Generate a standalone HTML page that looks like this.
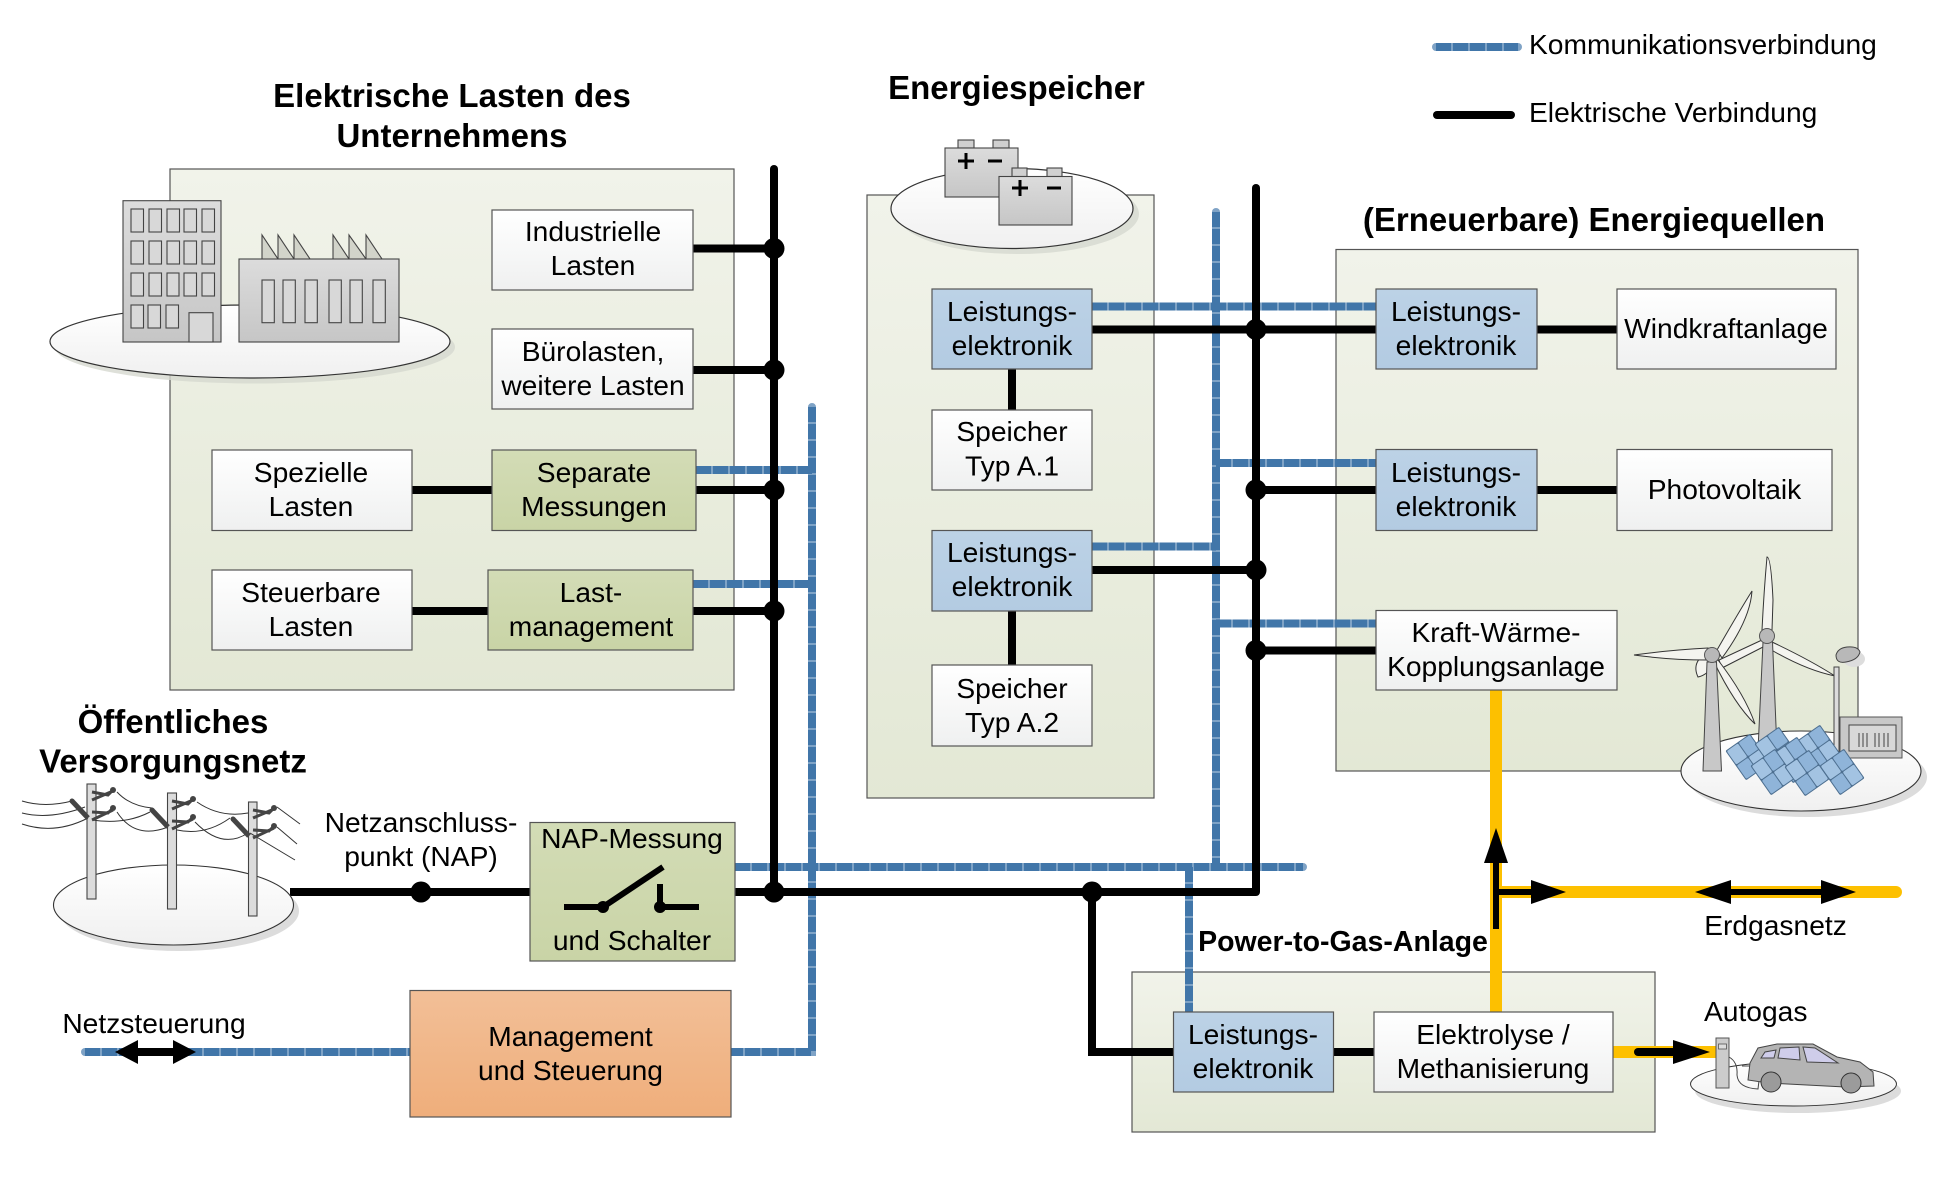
<!DOCTYPE html>
<html><head><meta charset="utf-8"><style>
html,body{margin:0;padding:0;background:#fff}
svg{display:block}
text{font-family:"Liberation Sans",sans-serif;font-size:28.2px;fill:#000;text-anchor:middle}
.b{font-weight:bold;font-size:33px}
.l{text-anchor:start}
.k{stroke:#000;stroke-width:8;fill:none}
.t{stroke:#000;stroke-width:6;fill:none}
.y{stroke:#fdc000;stroke-width:12;fill:none;stroke-linecap:round}
.bx{stroke:#555;stroke-width:1.2}
.o{stroke:#444;stroke-width:1.1}
.w{fill:#dcdcdc;stroke:#444;stroke-width:1.1}
</style></head><body>
<svg width="1948" height="1183" viewBox="0 0 1948 1183" xmlns="http://www.w3.org/2000/svg">
<defs>
<linearGradient id="pn" x1="0" y1="0" x2="0" y2="1"><stop offset="0" stop-color="#f1f3ea"/><stop offset="1" stop-color="#e3e8d5"/></linearGradient>
<linearGradient id="wh" x1="0" y1="0" x2="0" y2="1"><stop offset="0" stop-color="#fff"/><stop offset="1" stop-color="#eff0f0"/></linearGradient>
<linearGradient id="bl" x1="0" y1="0" x2="0" y2="1"><stop offset="0" stop-color="#bcd2e6"/><stop offset="1" stop-color="#b3cbe2"/></linearGradient>
<linearGradient id="gr" x1="0" y1="0" x2="0" y2="1"><stop offset="0" stop-color="#d3dcb6"/><stop offset="1" stop-color="#c9d4a6"/></linearGradient>
<linearGradient id="or" x1="0" y1="0" x2="0" y2="1"><stop offset="0" stop-color="#f2bf97"/><stop offset="1" stop-color="#efae7b"/></linearGradient>
<linearGradient id="gy" x1="0" y1="0" x2="0" y2="1"><stop offset="0" stop-color="#dcdcdc"/><stop offset="1" stop-color="#c6c6c6"/></linearGradient>
<linearGradient id="el" x1="0" y1="0" x2="0" y2="1"><stop offset="0" stop-color="#fff"/><stop offset="1" stop-color="#f0f0f0"/></linearGradient>
<g id="pv">
<g transform="rotate(-35)">
<rect x="-15" y="-18" width="30" height="36" rx="1.5" fill="#4d6f90"/>
<rect x="-14" y="-17" width="13.5" height="16.5" rx="1.5" fill="#a3c3e2"/><rect x="0.5" y="-17" width="13.5" height="16.5" rx="1.5" fill="#8fb4d9"/>
<rect x="-14" y="0.5" width="13.5" height="16.5" rx="1.5" fill="#8fb4d9"/><rect x="0.5" y="0.5" width="13.5" height="16.5" rx="1.5" fill="#a3c3e2"/>
</g></g>
<g id="arm" fill="none" stroke="#444">
<path stroke-width="5" d="M72 801L88 818"/>
<path stroke-width="3" d="M92 792L108 795L113 790M92 800L113 791M92 812L108 813L113 808M92 820L113 810"/>
<circle cx="72" cy="801" r="2.5" fill="#444" stroke="none"/><circle cx="113" cy="790" r="3" fill="#444" stroke="none"/><circle cx="113" cy="808" r="3" fill="#444" stroke="none"/>
</g>
<g id="cm" fill="none">
<path d="M812 407V1052H731"/>
<path d="M696 470H812"/>
<path d="M693 584H812"/>
<path d="M85 1052H410"/>
<path d="M735 867H1303"/>
<path d="M1216 212V867"/>
<path d="M1189 867V1012"/>
<path d="M1092 306.5H1376"/>
<path d="M1092 546.5H1216"/>
<path d="M1216 463H1376"/>
<path d="M1216 623.5H1376"/>
<path d="M1436 47H1518"/>
</g>
</defs>

<!-- panels -->
<rect x="170" y="169" width="564" height="521" fill="url(#pn)" class="bx"/>
<rect x="867" y="195" width="287" height="603" fill="url(#pn)" class="bx"/>
<rect x="1336" y="249.5" width="522" height="521.5" fill="url(#pn)" class="bx"/>
<rect x="1132" y="972" width="523" height="160" fill="url(#pn)" class="bx"/>

<!-- titles -->
<text class="b" x="452" y="107">Elektrische Lasten des</text>
<text class="b" x="452" y="147">Unternehmens</text>
<text class="b" x="1016.5" y="99">Energiespeicher</text>
<text class="b" x="1594" y="231">(Erneuerbare) Energiequellen</text>
<text class="b" x="173" y="733">Öffentliches</text>
<text class="b" x="173" y="772.5">Versorgungsnetz</text>
<text x="1343" y="951" style="font-weight:bold;font-size:28.5px">Power-to-Gas-Anlage</text>

<!-- legend -->
<line class="k" x1="1437" y1="115" x2="1511" y2="115" stroke-linecap="round"/>
<text class="l" x="1529" y="54">Kommunikationsverbindung</text>
<text class="l" x="1529" y="122">Elektrische Verbindung</text>

<!-- factory island -->
<ellipse cx="255" cy="347" rx="200" ry="36.5" fill="#d6d8d0" opacity=".8"/>
<ellipse cx="250" cy="341.5" rx="200" ry="36.5" fill="url(#el)" stroke="#333" stroke-width="1.2"/>
<rect x="123" y="200.7" width="98" height="141.3" fill="url(#gy)" class="o"/>
<g fill="#d8d8d8" class="o">
<rect x="131" y="209" width="12.5" height="23"/><rect x="149" y="209" width="12.5" height="23"/><rect x="167" y="209" width="12.5" height="23"/><rect x="184" y="209" width="12.5" height="23"/><rect x="202" y="209" width="12.5" height="23"/>
<rect x="131" y="241" width="12.5" height="23"/><rect x="149" y="241" width="12.5" height="23"/><rect x="167" y="241" width="12.5" height="23"/><rect x="184" y="241" width="12.5" height="23"/><rect x="202" y="241" width="12.5" height="23"/>
<rect x="131" y="273" width="12.5" height="23"/><rect x="149" y="273" width="12.5" height="23"/><rect x="167" y="273" width="12" height="23"/><rect x="184" y="273" width="12.5" height="23"/><rect x="202" y="273" width="12.5" height="23"/>
<rect x="131" y="305" width="12.5" height="23"/><rect x="148" y="305" width="12.5" height="23"/><rect x="166" y="305" width="12.5" height="23"/>
<rect x="189" y="312.7" width="24" height="29.3"/>
</g>
<g fill="#d2d4ca" class="o">
<path d="M262 259V235L278 259Z"/><path d="M278 259V235L294 259Z"/><path d="M294 259V235L310 259Z"/>
<path d="M333 259V235L349 259Z"/><path d="M349 259V235L366 259Z"/><path d="M366 259V235L382 259Z"/>
</g>
<rect x="239" y="259" width="160" height="83" fill="url(#gy)" class="o"/>
<g fill="#d8d8d8" class="o">
<rect x="262" y="280" width="12.3" height="42.7"/><rect x="283" y="280" width="12.3" height="42.7"/><rect x="305" y="280" width="12.3" height="42.7"/><rect x="329" y="280" width="12.3" height="42.7"/><rect x="350" y="280" width="12.3" height="42.7"/><rect x="373" y="280" width="12.3" height="42.7"/>
</g>

<!-- battery island -->
<ellipse cx="1018" cy="214" rx="121" ry="40" fill="#d6d8d0" opacity=".8"/>
<ellipse cx="1012" cy="208.5" rx="121" ry="40" fill="url(#el)" stroke="#333" stroke-width="1.2"/>
<g class="o" fill="#d0d0d0">
<rect x="958" y="140" width="16" height="8"/><rect x="993" y="140" width="16" height="8"/>
<rect x="945" y="148" width="73" height="49" fill="url(#gy)"/>
<rect x="1012" y="168" width="15" height="8.5"/><rect x="1047" y="168" width="15" height="8.5"/>
<rect x="999" y="176.5" width="73" height="48.5" fill="url(#gy)"/>
</g>
<g stroke="#000" stroke-width="3"><path d="M958 161H974M966 153V169M988 161H1002M1012 188H1028M1020 180V196M1047 188H1061"/></g>

<!-- comm lines -->
<use href="#cm" stroke="#7fa3c6" stroke-width="8" stroke-linecap="round"/>
<use href="#cm" stroke="#4176a9" stroke-width="8" stroke-dasharray="15 2"/>

<!-- yellow -->
<path class="y" d="M1496 690V1012" style="stroke-linecap:butt"/>
<path class="y" d="M1496 892H1896"/>
<path class="y" d="M1612 1052H1716" style="stroke-linecap:butt"/>

<!-- black lines -->
<line class="k" x1="774" y1="169" x2="774" y2="892" stroke-linecap="round"/>
<line class="k" x1="1256" y1="188" x2="1256" y2="892" stroke-linecap="round"/>
<path class="k" d="M290 892H1256"/>
<path class="k" d="M1092 892V1052H1173"/>
<line class="k" x1="1333" y1="1052" x2="1374" y2="1052"/>
<line class="k" x1="693" y1="248.5" x2="774" y2="248.5"/>
<line class="k" x1="693" y1="370" x2="774" y2="370"/>
<line class="k" x1="412" y1="490" x2="492" y2="490"/>
<line class="k" x1="696" y1="490" x2="774" y2="490"/>
<line class="k" x1="412" y1="611" x2="488" y2="611"/>
<line class="k" x1="693" y1="611" x2="774" y2="611"/>
<line class="k" x1="1012" y1="369" x2="1012" y2="410"/>
<line class="k" x1="1012" y1="611" x2="1012" y2="665"/>
<line class="k" x1="1092" y1="329.5" x2="1376" y2="329.5"/>
<line class="k" x1="1537" y1="329.5" x2="1617" y2="329.5"/>
<line class="k" x1="1256" y1="490" x2="1376" y2="490"/>
<line class="k" x1="1537" y1="490" x2="1617" y2="490"/>
<line class="k" x1="1092" y1="570" x2="1256" y2="570"/>
<line class="k" x1="1256" y1="650.5" x2="1376" y2="650.5"/>

<!-- dots -->
<g fill="#000">
<circle cx="774" cy="248.5" r="10.5"/><circle cx="774" cy="370" r="10.5"/><circle cx="774" cy="490" r="10.5"/><circle cx="774" cy="611" r="10.5"/><circle cx="774" cy="892" r="10.5"/>
<circle cx="421" cy="892" r="10.5"/><circle cx="1092" cy="892" r="10.5"/>
<circle cx="1256" cy="329.5" r="10.5"/><circle cx="1256" cy="490" r="10.5"/><circle cx="1256" cy="570" r="10.5"/><circle cx="1256" cy="650.5" r="10.5"/>
</g>

<!-- boxes left -->
<rect x="492" y="210" width="201" height="80" fill="url(#wh)" class="bx"/>
<text x="593" y="241">Industrielle</text><text x="593" y="275">Lasten</text>
<rect x="492" y="329" width="201" height="80" fill="url(#wh)" class="bx"/>
<text x="593" y="361">Bürolasten,</text><text x="593" y="395">weitere Lasten</text>
<rect x="212" y="450" width="200" height="80.5" fill="url(#wh)" class="bx"/>
<text x="311" y="482">Spezielle</text><text x="311" y="516">Lasten</text>
<rect x="492" y="450" width="204" height="80.5" fill="url(#gr)" class="bx"/>
<text x="594" y="482">Separate</text><text x="594" y="516">Messungen</text>
<rect x="212" y="570" width="200" height="80" fill="url(#wh)" class="bx"/>
<text x="311" y="602">Steuerbare</text><text x="311" y="636">Lasten</text>
<rect x="488" y="570" width="205" height="80" fill="url(#gr)" class="bx"/>
<text x="591" y="602">Last-</text><text x="591" y="636">management</text>

<!-- boxes storage -->
<rect x="932" y="289" width="160" height="80" fill="url(#bl)" class="bx"/>
<text x="1012" y="321">Leistungs-</text><text x="1012" y="355">elektronik</text>
<rect x="932" y="410" width="160" height="80" fill="url(#wh)" class="bx"/>
<text x="1012" y="441">Speicher</text><text x="1012" y="475.5">Typ A.1</text>
<rect x="932" y="530.5" width="160" height="80.5" fill="url(#bl)" class="bx"/>
<text x="1012" y="562">Leistungs-</text><text x="1012" y="596">elektronik</text>
<rect x="932" y="665" width="160" height="81" fill="url(#wh)" class="bx"/>
<text x="1012" y="698">Speicher</text><text x="1012" y="732">Typ A.2</text>

<!-- boxes sources -->
<rect x="1376" y="289" width="161" height="80" fill="url(#bl)" class="bx"/>
<text x="1456" y="321">Leistungs-</text><text x="1456" y="355">elektronik</text>
<rect x="1617" y="289" width="219" height="80" fill="url(#wh)" class="bx"/>
<text x="1726" y="338">Windkraftanlage</text>
<rect x="1376" y="449.5" width="161" height="81" fill="url(#bl)" class="bx"/>
<text x="1456" y="482">Leistungs-</text><text x="1456" y="516">elektronik</text>
<rect x="1617" y="449.5" width="215" height="81" fill="url(#wh)" class="bx"/>
<text x="1724.5" y="499">Photovoltaik</text>
<rect x="1376" y="610.5" width="241" height="79.5" fill="url(#wh)" class="bx"/>
<text x="1496" y="642">Kraft-Wärme-</text><text x="1496" y="676">Kopplungsanlage</text>

<!-- grid island -->
<ellipse cx="179" cy="911" rx="120" ry="40" fill="#dcdcdc"/>
<ellipse cx="173.5" cy="905" rx="120" ry="40" fill="url(#el)" stroke="#333" stroke-width="1.1"/>
<g class="w" fill="#d0d0d0">
<rect x="87" y="784" width="9" height="115"/><rect x="167.5" y="793" width="9" height="116"/><rect x="248.5" y="802" width="8.5" height="114"/>
</g>
<g fill="none" stroke="#333" stroke-width="1">
<path d="M22 801Q45 808 72 801M22 813Q50 820 85 807M22 824Q55 835 88 818"/>
<path d="M117 792Q130 806 152 808M92 820Q125 825 150 812M117 812Q135 840 168 827"/>
<path d="M197 802Q220 818 248 813M195 822Q222 850 248 833M177 830Q205 836 230 818"/>
<path d="M277 807L300 824M277 827L297 844M250 833L295 860"/>
</g>
<use href="#arm"/><use href="#arm" x="80" y="9"/><use href="#arm" x="161" y="18"/>

<text x="421" y="832">Netzanschluss-</text><text x="421" y="866">punkt (NAP)</text>

<!-- NAP -->
<rect x="530" y="822.5" width="205" height="138.5" fill="url(#gr)" class="bx"/>
<text x="632" y="848">NAP-Messung</text><text x="632" y="950">und Schalter</text>
<g stroke="#000" stroke-width="6" fill="none">
<path d="M564 907H603L663 867M660 884V907H699"/>
</g>
<circle cx="603" cy="907" r="6"/><circle cx="660" cy="907" r="6"/>

<!-- management -->
<rect x="410" y="990.5" width="321" height="126.5" fill="url(#or)" class="bx"/>
<text x="570.5" y="1046">Management</text><text x="570.5" y="1080">und Steuerung</text>
<text x="154" y="1033">Netzsteuerung</text>
<path d="M115 1052L138 1040V1048H173V1040L196 1052L173 1064V1056H138V1064Z" fill="#000"/>

<!-- P2G -->
<rect x="1173.5" y="1012" width="160" height="80" fill="url(#bl)" class="bx"/>
<text x="1253" y="1044">Leistungs-</text><text x="1253" y="1078">elektronik</text>
<rect x="1374" y="1012" width="239" height="80" fill="url(#wh)" class="bx"/>
<text x="1493" y="1044">Elektrolyse /</text><text x="1493" y="1078">Methanisierung</text>

<!-- arrows -->
<g fill="#000">
<path d="M1496 828L1508 863H1484Z"/><line class="t" x1="1496" y1="860" x2="1496" y2="929"/>
<line class="t" x1="1497" y1="892" x2="1535" y2="892"/><path d="M1566 892L1531 880V904Z"/>
<line class="t" x1="1725" y1="892" x2="1825" y2="892"/><path d="M1695 892L1731 880V904Z"/><path d="M1856 892L1821 880V904Z"/>
<line class="k" x1="1638" y1="1052" x2="1676" y2="1052" stroke-linecap="round"/><path d="M1710 1052L1673 1040V1064Z"/>
</g>
<text x="1775.5" y="935">Erdgasnetz</text>
<text class="l" x="1704" y="1021">Autogas</text>

<!-- car island -->
<ellipse cx="1798" cy="1091" rx="103" ry="22" fill="#dcdcdc"/>
<ellipse cx="1793.5" cy="1084" rx="103" ry="22" fill="url(#el)" stroke="#333" stroke-width="1"/>
<rect x="1716" y="1038" width="13" height="50" fill="#ccc" stroke="#555"/>
<rect x="1718.5" y="1044" width="8" height="5" fill="#ddd" stroke="#555" stroke-width=".8"/>
<path d="M1729 1057Q1738 1062 1737 1075Q1738 1088 1758 1089Q1760 1075 1759 1066L1742 1066" fill="none" stroke="#444"/>
<path d="M1748 1080L1750 1063L1758 1048L1777 1044H1813L1837 1057L1860 1062L1873 1072L1874 1086L1845 1087L1768 1083Z" fill="#b4b4b4" stroke="#444"/>
<path d="M1761 1058L1765 1052L1776 1050L1774 1058Z M1778 1058L1780 1048L1799 1047L1800 1060Z M1803 1047L1815 1048L1838 1063L1807 1062Z" fill="#cfcdea" stroke="#444"/>
<circle cx="1771" cy="1082" r="10" fill="#9b9b9b" stroke="#333"/><circle cx="1851" cy="1083" r="10" fill="#9b9b9b" stroke="#333"/>

<!-- renewable island -->
<ellipse cx="1807" cy="777" rx="120" ry="40" fill="#dcdcdc"/>
<ellipse cx="1801" cy="771" rx="120" ry="40" fill="url(#el)" stroke="#333" stroke-width="1.1"/>
<ellipse cx="1854" cy="659" rx="11" ry="8" fill="#ddd"/>
<path d="M1836 655Q1838 648 1847 647Q1858 646 1860 652Q1858 660 1846 662Q1836 664 1836 655Z" fill="#b8b8b8" stroke="#444"/>
<g fill="#f4f4ef" stroke="#333" stroke-width="1">
<path d="M1762 630Q1764 590 1767 557Q1771 557 1773 600L1772 630Z"/>
<path d="M1762 640L1719 660L1722 668L1765 646Z"/>
<path d="M1772 642Q1810 660 1835 676Q1805 670 1768 648Z"/>
<path d="M1712 650Q1690 660 1698 677Q1708 675 1716 662Z"/>
<path d="M1708 648Q1670 650 1634 655Q1670 660 1708 660Z"/>
<path d="M1717 650Q1740 610 1752 591Q1750 620 1722 658Z"/>
<path d="M1718 660Q1745 695 1755 724Q1735 705 1714 662Z"/>
</g>
<path d="M1707 662L1703 771H1721.5L1716.5 662Z" fill="#c8c8c8" stroke="#444"/>
<path d="M1763 642L1758 750H1777L1772.5 642Z" fill="#c8c8c8" stroke="#444"/>
<circle cx="1712" cy="655" r="7.5" fill="#b8b8b8" stroke="#555"/>
<circle cx="1767" cy="636" r="7.5" fill="#b8b8b8" stroke="#555"/>
<rect x="1834" y="667" width="5" height="86" fill="#dcdcdc" stroke="#444"/>
<rect x="1840" y="717" width="62" height="41" fill="#c8c8c8" stroke="#555"/>
<rect x="1849" y="725" width="47" height="26" fill="#d8d8d8" stroke="#444"/>
<path d="M1859 733V747M1863 733V747M1867 733V747M1875 733V747M1879 733V747M1884 733V747M1888 733V747" stroke="#444"/>
<use href="#pv" x="1748" y="757"/><use href="#pv" x="1818" y="748"/><use href="#pv" x="1777" y="750"/>
<use href="#pv" x="1795" y="760"/><use href="#pv" x="1773" y="772"/><use href="#pv" x="1807" y="773"/><use href="#pv" x="1842" y="772"/>
</svg>
</body></html>
